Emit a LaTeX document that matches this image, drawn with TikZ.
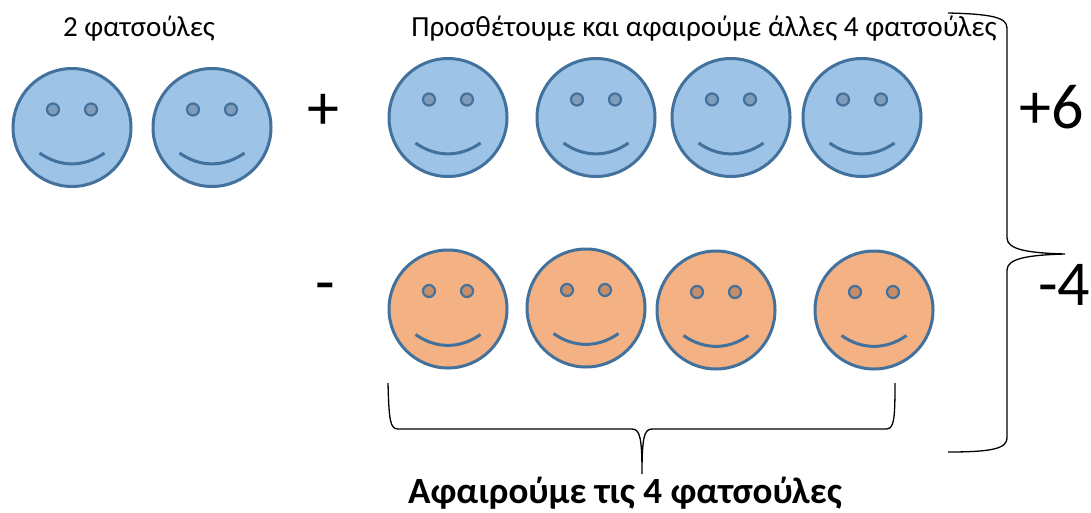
\documentclass[tikz,border=0pt]{standalone}
\usepackage{fontspec}
\setmainfont{Carlito}
\usepackage{tikz}
\definecolor{faceline}{RGB}{65,113,156}
\definecolor{bluefill}{RGB}{157,195,230}
\definecolor{blueeye}{RGB}{127,157,186}
\definecolor{orangefill}{RGB}{244,177,131}
\definecolor{orangeeye}{RGB}{197,142,104}
\tikzset{
  head/.style={circle, draw=faceline, line width=3pt, minimum size=118pt, inner sep=0pt},
  eye/.style={circle, draw=faceline, line width=2.2pt, minimum size=12pt, inner sep=0pt},
  mouth/.style={draw=faceline, line width=3pt},
  brace/.style={draw=black, line width=1.3pt},
  sign/.style={anchor=base, font=\fontsize{64}{70}\selectfont, inner sep=0pt},
  pics/smiley/.style={code={
    \node [head, fill=#1fill] (-head) at (0,0) {};
    \node [eye, fill=#1eye] (-leye) at (-19,-18) {};
    \node [eye, fill=#1eye] (-reye) at (19,-18) {};
    \draw [mouth] (-32.5,25.5) .. controls (-12,40) and (12,40) .. (32.5,25.5);
  }}
}
\begin{document}
\begin{tikzpicture}[x=1pt,y=-1pt]
\useasboundingbox (0,0) rectangle (1091,512);
% titles
\node [anchor=base, inner sep=0pt, font=\fontsize{29}{34}\selectfont] (lefttitle) at (139,36) {2 φατσούλες};
\node [anchor=base, inner sep=0pt, font=\fontsize{29.2}{34}\selectfont] (righttitle) at (704,36) {Προσθέτουμε και αφαιρούμε άλλες 4 φατσούλες};
% first two faces
\pic (b1) at (72,127.5) {smiley=blue};
\pic (b2) at (212,127.5) {smiley=blue};
\node [sign] (plus) at (323,129) {+};
% added faces
\pic (b3) at (448,117.5) {smiley=blue};
\pic (b4) at (596,117.5) {smiley=blue};
\pic (b5) at (731,117.5) {smiley=blue};
\pic (b6) at (862,117.5) {smiley=blue};
% taken away faces
\node [sign] (minus) at (325,303) {-};
\pic (o1) at (448,309) {smiley=orange};
\pic (o2) at (586,308) {smiley=orange};
\pic (o3) at (716,310) {smiley=orange};
\pic (o4) at (874,310) {smiley=orange};
% right brace
\draw [brace] (948,13) .. controls (990,14) and (1007,17) .. (1007,28) -- (1007,238)
  .. controls (1007,250) and (1030,253) .. (1065,254)
  .. controls (1030,255) and (1007,258) .. (1007,270) -- (1007,438)
  .. controls (1007,449) and (990,452) .. (948,452);
\node [sign] (plussix) at (1052,128) {+6};
\node [sign] (minusfour) at (1064,305) {-4};
% bottom brace
\draw [brace] (388,383) .. controls (389,420) and (390,429) .. (398,429) -- (632,429)
  .. controls (640,429) and (642,438) .. (642,474)
  .. controls (642,438) and (644,429) .. (652,429) -- (886,429)
  .. controls (894,429) and (895,420) .. (895,383);
\node [anchor=base, inner sep=0pt, font=\bfseries\fontsize{37}{42}\selectfont] (caption) at (625,503) {Αφαιρούμε τις 4 φατσούλες};
\end{tikzpicture}
\end{document}
